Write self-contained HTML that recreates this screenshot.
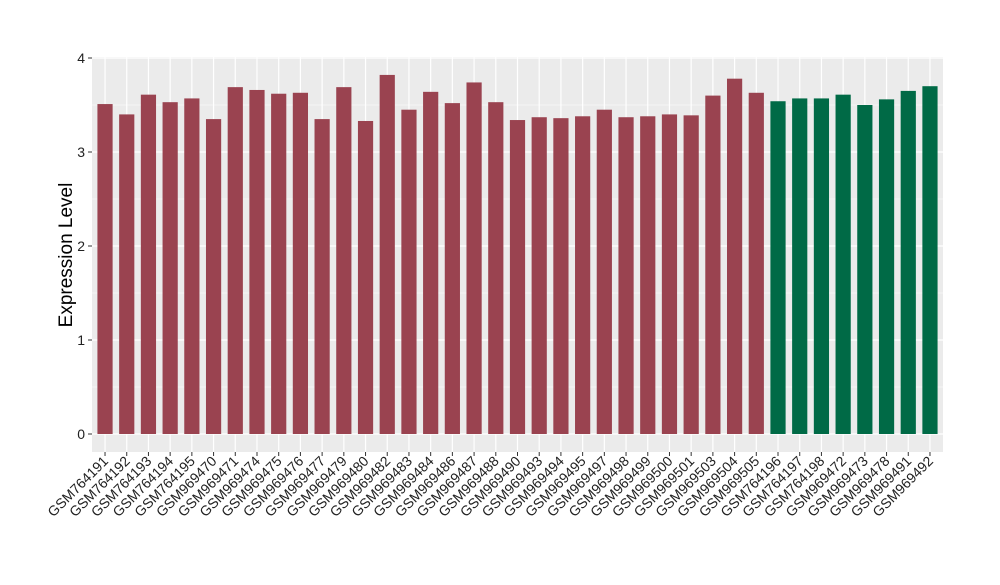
<!DOCTYPE html>
<html><head><meta charset="utf-8"><style>
body{margin:0;background:#fff;}
svg text{font-family:"Liberation Sans",sans-serif;}
</style></head><body>
<svg id="chart" width="1000" height="580" xmlns="http://www.w3.org/2000/svg">
<rect x="92" y="57" width="851" height="395" fill="#ebebeb"/>
<g id="grid"></g><g id="bars"></g><g id="axes"></g>
<text x="72" y="255" font-size="19" text-anchor="middle" transform="rotate(-90 72 255)">Expression Level</text>
</svg>
<script>
const categories=["GSM764191","GSM764192","GSM764193","GSM764194","GSM764195","GSM969470","GSM969471","GSM969474","GSM969475","GSM969476","GSM969477","GSM969479","GSM969480","GSM969482","GSM969483","GSM969484","GSM969486","GSM969487","GSM969488","GSM969490","GSM969493","GSM969494","GSM969495","GSM969497","GSM969498","GSM969499","GSM969500","GSM969501","GSM969503","GSM969504","GSM969505","GSM764196","GSM764197","GSM764198","GSM969472","GSM969473","GSM969478","GSM969491","GSM969492"];
const values=[3.51,3.40,3.61,3.53,3.57,3.35,3.69,3.66,3.62,3.63,3.35,3.69,3.33,3.82,3.45,3.64,3.52,3.74,3.53,3.34,3.37,3.36,3.38,3.45,3.37,3.38,3.40,3.39,3.60,3.78,3.63,3.54,3.57,3.57,3.61,3.50,3.56,3.65,3.70];
const groups=["a","a","a","a","a","a","a","a","a","a","a","a","a","a","a","a","a","a","a","a","a","a","a","a","a","a","a","a","a","a","a","b","b","b","b","b","b","b","b"];
const yTicks=[0,1,2,3,4];
const NS="http://www.w3.org/2000/svg";
const px0=92,pw=851,y0=434,ppu=94;
const band=pw/(categories.length+0.2);
const x=i=>px0+band*(0.6+i);
const y=v=>y0-v*ppu;
function mk(t,a,p){const e=document.createElementNS(NS,t);for(const k in a)e.setAttribute(k,a[k]);p.appendChild(e);return e;}
const grid=document.getElementById('grid'),bars=document.getElementById('bars'),axes=document.getElementById('axes');
for(let i=0;i<yTicks.length-1;i++){const l=mk('line',{x1:px0,x2:px0+pw,y1:y(yTicks[i]+0.5),y2:y(yTicks[i]+0.5),stroke:'#fff','stroke-width':0.6},grid);

}
yTicks.forEach(t=>{const l=mk('line',{x1:px0,x2:px0+pw,y1:y(t),y2:y(t),stroke:'#fff','stroke-width':1.2},grid);


const tk=mk('line',{x1:px0-4,x2:px0,y1:y(t),y2:y(t),stroke:'#333','stroke-width':1},axes);


const tx=mk('text',{x:px0-7,y:y(t)+5,'font-size':14,'text-anchor':'end',fill:'#222'},axes);tx.textContent=t;

});
categories.forEach((c,i)=>{const gl=mk('line',{x1:x(i),x2:x(i),y1:57,y2:452,stroke:'#fff','stroke-width':1.2},grid);


const w=band*0.7;
const r=mk('rect',{x:x(i)-w/2,y:y(values[i]),width:w,height:y0-y(values[i]),fill:groups[i]==='a'?'#9a4350':'#006a46'},bars);


const tk=mk('line',{x1:x(i),x2:x(i),y1:452,y2:456,stroke:'#333','stroke-width':1},axes);


const tx=mk('text',{x:x(i)+4,y:462,'font-size':14,'text-anchor':'end',fill:'#222',transform:`rotate(-45 ${x(i)+4} 462)`},axes);tx.textContent=c;

});
</script>
</body></html>
